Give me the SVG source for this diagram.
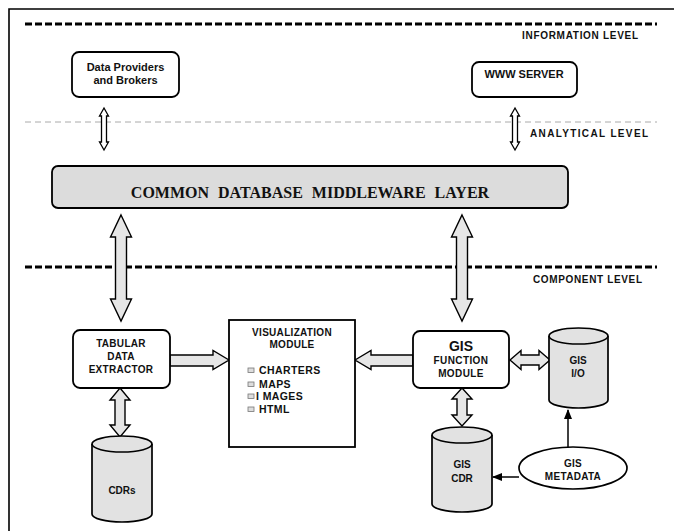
<svg xmlns="http://www.w3.org/2000/svg" width="674" height="531" viewBox="0 0 674 531">
<style>
.t{font-family:"Liberation Sans",Arial,sans-serif;font-weight:bold;fill:#111}
.box{fill:#fff;stroke:#000;stroke-width:1.8}
.cyl{fill:#e2e2e2;stroke:#000;stroke-width:1.7}
.arr{fill:#e6e6e6;stroke:#000;stroke-width:1.4;stroke-linejoin:miter}
.sarr{fill:#fff;stroke:#000;stroke-width:1.3}
.dash{stroke:#000;stroke-width:3;stroke-dasharray:7 3;fill:none}
.gdash{stroke:#aaa;stroke-width:1;stroke-dasharray:6 4;fill:none}
.lvl{font-size:10px}
</style>
<defs>
<marker id="ah" markerWidth="10" markerHeight="10" refX="9" refY="5" orient="auto" markerUnits="userSpaceOnUse">
<path d="M0,1 L10,5 L0,9 Z" fill="#000"/>
</marker>
</defs>
<rect width="674" height="531" fill="#fff"/>
<path d="M9,531 V9 H674" fill="none" stroke="#000" stroke-width="1.6"/>
<g id="levels">
<line class="dash" x1="25" y1="24" x2="657" y2="24"/>
<line class="gdash" x1="25" y1="122" x2="657" y2="122"/>
<line class="dash" x1="25" y1="267" x2="657" y2="267"/>
<text class="t lvl" x="522" y="39" textLength="116" lengthAdjust="spacing">INFORMATION  LEVEL</text>
<text class="t lvl" x="530" y="137" textLength="118" lengthAdjust="spacing">ANALYTICAL  LEVEL</text>
<text class="t lvl" x="533" y="283" textLength="109" lengthAdjust="spacing">COMPONENT LEVEL</text>
</g>
<g id="connectors">
<polygon class="sarr" points="104,108 108.5,116 106.5,116 106.5,142 108.5,142 104,150 99.5,142 101.5,142 101.5,116 99.5,116"/>
<polygon class="sarr" points="515,108 519.5,116 517.5,116 517.5,142 519.5,142 515,150 510.5,142 512.5,142 512.5,116 510.5,116"/>
<polygon class="arr" points="121,215 131.5,237 126.5,237 126.5,299 131.5,299 121,321 110.5,299 115.5,299 115.5,237 110.5,237"/>
<polygon class="arr" points="462,215 472.5,237 467.5,237 467.5,299 472.5,299 462,321 451.5,299 456.5,299 456.5,237 451.5,237"/>
<polygon class="arr" points="120,388 130,400 125,400 125,425 130,425 120,437 110,425 115,425 115,400 110,400"/>
<polygon class="arr" points="462,388 472,399 467,399 467,415 472,415 462,426 452,415 457,415 457,399 452,399"/>
<polygon class="arr" points="229,360 213,350.5 213,355 170,355 170,366 213,366 213,369.5"/>
<polygon class="arr" points="355,360 371,350.5 371,355 413,355 413,366 371,366 371,369.5"/>
<polygon class="arr" points="510,360 521,350.5 521,355 539,355 539,350.5 550,360 539,369.5 539,365 521,365 521,369.5"/>
<line x1="568" y1="447" x2="568" y2="410" stroke="#000" stroke-width="1.5" marker-end="url(#ah)"/>
<line x1="519" y1="477" x2="493" y2="477" stroke="#000" stroke-width="1.5" marker-end="url(#ah)"/>
</g>
<g id="data-providers">
<rect class="box" x="72" y="52" width="107" height="45" rx="7"/>
<text class="t" font-size="11" text-anchor="middle" x="125.5" y="71">Data Providers</text>
<text class="t" font-size="11" text-anchor="middle" x="125.5" y="84">and Brokers</text>
</g>
<g id="www-server">
<rect class="box" x="472" y="62" width="105" height="35" rx="7"/>
<text class="t" font-size="11" text-anchor="middle" x="524" y="78">WWW SERVER</text>
</g>
<g id="middleware">
<rect x="52" y="166" width="516" height="42" rx="6" fill="#dcdcdc" stroke="#000" stroke-width="1.8"/>
<text x="310" y="198" text-anchor="middle" font-family="'Liberation Serif','Times New Roman',serif" font-weight="bold" font-size="16" word-spacing="5" fill="#111">COMMON DATABASE MIDDLEWARE LAYER</text>
</g>
<g id="tabular">
<rect class="box" x="73" y="330" width="97" height="58" rx="7"/>
<text class="t" font-size="10" text-anchor="middle" x="121" y="347" letter-spacing="0.3">TABULAR</text>
<text class="t" font-size="10" text-anchor="middle" x="121" y="360" letter-spacing="0.3">DATA</text>
<text class="t" font-size="10" text-anchor="middle" x="121" y="373" letter-spacing="0.3">EXTRACTOR</text>
</g>
<g id="visualization">
<rect class="box" x="229" y="320" width="126" height="127"/>
<text class="t" font-size="10" text-anchor="middle" x="292" y="336" letter-spacing="0.3">VISUALIZATION</text>
<text class="t" font-size="10" text-anchor="middle" x="292" y="348" letter-spacing="0.3">MODULE</text>
<g fill="#ddd" stroke="#777" stroke-width="0.8">
<rect x="248" y="368" width="6" height="4.5"/>
<rect x="248" y="382" width="6" height="4.5"/>
<rect x="248" y="394" width="6" height="4.5"/>
<rect x="248" y="407" width="6" height="4.5"/>
</g>
<text class="t" font-size="10.5" x="259" y="374" letter-spacing="0.4">CHARTERS</text>
<text class="t" font-size="10.5" x="259" y="388" letter-spacing="0.4">MAPS</text>
<text class="t" font-size="10.5" x="256" y="400" letter-spacing="0.4">I MAGES</text>
<text class="t" font-size="10.5" x="259" y="413" letter-spacing="0.4">HTML</text>
</g>
<g id="gis-function">
<rect class="box" x="413" y="331" width="96" height="57" rx="7"/>
<text class="t" font-size="14" text-anchor="middle" x="461" y="351">GIS</text>
<text class="t" font-size="10" text-anchor="middle" x="461" y="364" letter-spacing="0.4">FUNCTION</text>
<text class="t" font-size="10" text-anchor="middle" x="461" y="377" letter-spacing="0.4">MODULE</text>
</g>
<g id="gis-io">
<path class="cyl" d="M549,336 A29.5,8 0 0 1 608,336 V400 A29.5,8 0 0 1 549,400 Z"/>
<path d="M549,336 A29.5,8 0 0 0 608,336" fill="none" stroke="#000" stroke-width="1.6"/>
<text class="t" font-size="10" text-anchor="middle" x="578" y="364">GIS</text>
<text class="t" font-size="10" text-anchor="middle" x="578" y="377">I/O</text>
</g>
<g id="gis-cdr">
<path class="cyl" d="M432,435 A30,8 0 0 1 492,435 V504 A30,8 0 0 1 432,504 Z"/>
<path d="M432,435 A30,8 0 0 0 492,435" fill="none" stroke="#000" stroke-width="1.6"/>
<text class="t" font-size="10" text-anchor="middle" x="462" y="468">GIS</text>
<text class="t" font-size="10" text-anchor="middle" x="462" y="482">CDR</text>
</g>
<g id="gis-metadata">
<ellipse cx="573" cy="468" rx="54" ry="21" fill="#fff" stroke="#000" stroke-width="1.7"/>
<text class="t" font-size="10" text-anchor="middle" x="573" y="467" letter-spacing="0.3">GIS</text>
<text class="t" font-size="10" text-anchor="middle" x="573" y="480" letter-spacing="0.3">METADATA</text>
</g>
<g id="cdrs">
<path class="cyl" d="M92,444 A30,8 0 0 1 152,444 V514 A30,8 0 0 1 92,514 Z"/>
<path d="M92,444 A30,8 0 0 0 152,444" fill="none" stroke="#000" stroke-width="1.6"/>
<text class="t" font-size="10" text-anchor="middle" x="122" y="494">CDRs</text>
</g>
</svg>
